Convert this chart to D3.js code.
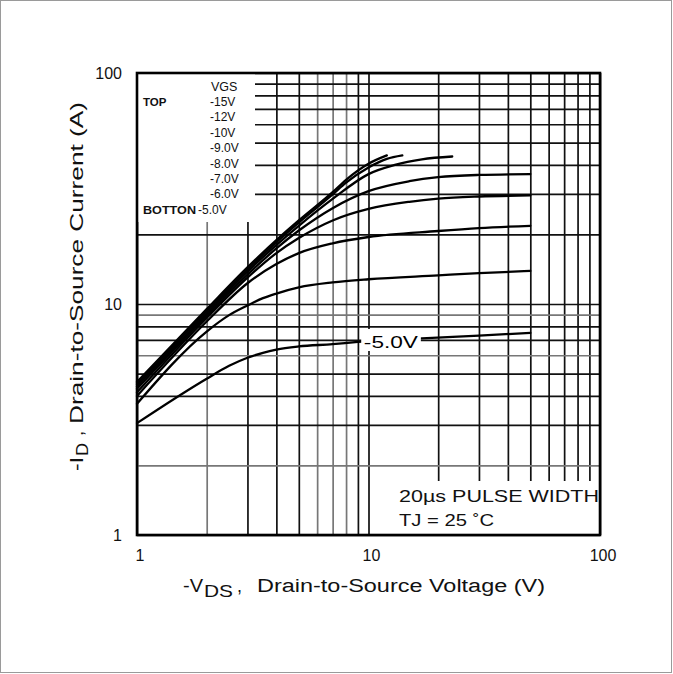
<!DOCTYPE html>
<html><head><meta charset="utf-8">
<script src="https://cdn.jsdelivr.net/npm/d3@7"></script>
<style>html,body{margin:0;padding:0;background:#fff}svg{display:block}</style>
</head><body>
<svg id="c" width="673" height="674"></svg>
<script>
// ---- data ----
const xTickLabels = [1, 10, 100];
const yTickLabels = [1, 10, 100];
const legendTitle = "VGS";
const legendLabels = ["-15V", "-12V", "-10V", "-9.0V", "-8.0V", "-7.0V", "-6.0V", "-5.0V"];
const vgs15 = [[1,4.6],[2,9.5],[3,14.4],[4,18.9],[5,23],[7,30.5],[8,34.5],[10,40.5],[12,44]];
const vgs12 = [[1,4.5],[2,9.3],[3,14.1],[4,18.5],[5,22.5],[7,29.8],[8,33.5],[10,39],[12,42.5],[14,44]];
const vgs10 = [[1,4.4],[2,9.1],[3,13.8],[4,18],[5,21.8],[7,28.5],[10,36.5],[13,40],[17,42.3],[23,43.5]];
const vgs9  = [[1,4.3],[2,8.9],[3,13.4],[4,17.4],[5,20.8],[7,26],[10,30.8],[15,34],[20,35.4],[30,36.2],[50,36.5]];
const vgs8  = [[1,4.15],[2,8.7],[3,13],[4,16.6],[5,19.3],[7,23],[10,25.8],[15,27.7],[20,28.6],[30,29.2],[50,29.5]];
const vgs7  = [[1,4.0],[2,8.4],[3,12.3],[4,14.9],[5,16.6],[7,18.3],[10,19.5],[20,20.7],[30,21.3],[50,21.8]];
const vgs6  = [[1,3.7],[2,7.6],[2.5,8.95],[3,9.85],[3.5,10.6],[4,11.1],[5,11.8],[7,12.4],[10,12.8],[20,13.3],[30,13.6],[50,13.9]];
const vgs5  = [[1,3.05],[2,4.75],[2.5,5.4],[3,5.85],[3.5,6.15],[4,6.35],[5,6.55],[7,6.7],[9,6.85],[17,7.1],[30,7.3],[50,7.5]];
const curves = [vgs15, vgs12, vgs10, vgs9, vgs8, vgs7, vgs6, vgs5];
const curveLabel = "-5.0V";
const xTitle = ["-V", "DS", ",", "Drain-to-Source Voltage (V)"];
const yTitle = ["-I", "D", ",", "Drain-to-Source Current (A)"];
const note1 = "20\u00b5s PULSE WIDTH";
const note2 = "TJ = 25 \u02daC";

// ---- layout ----
const L = 137, R = 600, T = 73, B = 535;
const svg = d3.select("#c");
const FONT = "'Liberation Sans', Arial, sans-serif";
const x = d3.scaleLog().domain([1, 100]).range([L, R]);
const y = d3.scaleLog().domain([1, 100]).range([B, T]);

svg.append("rect").attr("x", 0).attr("y", 0).attr("width", 673).attr("height", 674).attr("fill", "#fff");
svg.append("rect").attr("x", 0.5).attr("y", 0.5).attr("width", 671).attr("height", 672)
  .attr("fill", "none").attr("stroke", "#9a9a9a").attr("stroke-width", 1);

// grid via axes
const lightX = new Set([2, 6, 7, 8]);
const lightY = new Set([2, 6, 9]);
const gx = svg.append("g").attr("transform", `translate(0,${B})`)
  .call(d3.axisBottom(x).tickValues(x.ticks()).tickSize(-(B - T)).tickFormat(""));
gx.select(".domain").remove();
gx.selectAll("line").attr("stroke", d => lightX.has(d) ? "#777" : "#111").attr("stroke-width", 1.7);
const gy = svg.append("g").attr("transform", `translate(${L},0)`)
  .call(d3.axisLeft(y).tickValues(y.ticks()).tickSize(-(R - L)).tickFormat(""));
gy.select(".domain").remove();
gy.selectAll("line").attr("stroke", d => lightY.has(d) ? "#777" : "#111").attr("stroke-width", 1.7);

// white masks (legend box, note box)
svg.append("rect").attr("x", L).attr("y", T).attr("width", 118).attr("height", 149).attr("fill", "#fff");
svg.append("rect").attr("x", 378).attr("y", 481).attr("width", R - 378).attr("height", B - 481).attr("fill", "#fff");

// curves
const line = d3.line().x(d => x(d[0])).y(d => y(d[1])).curve(d3.curveMonotoneX);
svg.append("g").selectAll("path").data(curves).join("path")
  .attr("d", line).attr("fill", "none").attr("stroke", "#000").attr("stroke-width", 2.3)
  .attr("stroke-linecap", "round");

// in-plot label -5.0V
svg.append("rect").attr("x", x(9.3)).attr("y", 329).attr("width", x(17) - x(9.3) - 1).attr("height", 22).attr("fill", "#fff");
svg.append("text").attr("x", x(9.55)).attr("y", 348).attr("font-family", FONT).attr("font-size", 17)
  .attr("textLength", 54).attr("lengthAdjust", "spacingAndGlyphs").text(curveLabel);

// frame
svg.append("rect").attr("x", L).attr("y", T).attr("width", R - L).attr("height", B - T)
  .attr("fill", "none").attr("stroke", "#000").attr("stroke-width", 2.6);

// tick labels
svg.append("g").selectAll("text").data(yTickLabels).join("text")
  .attr("x", 122).attr("y", d => y(d) + 6).attr("text-anchor", "end")
  .attr("font-family", FONT).attr("font-size", 16).attr("fill", "#111").text(d => d);
svg.append("g").selectAll("text").data(xTickLabels).join("text")
  .attr("x", d => x(d) + 3).attr("y", 561).attr("text-anchor", "middle")
  .attr("font-family", FONT).attr("font-size", 16).attr("fill", "#111").text(d => d);

// legend
const lg = svg.append("g").attr("font-family", FONT).attr("font-size", 12).attr("fill", "#111");
lg.append("text").attr("x", 211).attr("y", 91).attr("font-size", 12.5).text(legendTitle);
lg.append("text").attr("x", 143).attr("y", 106).attr("font-weight", "bold").attr("font-size", 11.5).text("TOP");
lg.selectAll("text.v").data(legendLabels).join("text").attr("class", "v")
  .attr("x", (d, i) => i === legendLabels.length - 1 ? 198 : 210)
  .attr("y", (d, i) => 106 + i * 15.4).text(d => d);
lg.append("text").attr("x", 143).attr("y", 106 + 7 * 15.4).attr("font-weight", "bold").attr("font-size", 11.5)
  .attr("textLength", 53).attr("lengthAdjust", "spacingAndGlyphs").text("BOTTON");

// notes
svg.append("text").attr("x", 399).attr("y", 502).attr("font-family", FONT).attr("font-size", 16)
  .attr("textLength", 200).attr("lengthAdjust", "spacingAndGlyphs").attr("fill", "#111").text(note1);
svg.append("text").attr("x", 399).attr("y", 526).attr("font-family", FONT).attr("font-size", 16)
  .attr("textLength", 95).attr("lengthAdjust", "spacingAndGlyphs").attr("fill", "#111").text(note2);

// axis titles
const xt = svg.append("g").attr("font-family", FONT).attr("fill", "#111");
xt.append("text").attr("x", 183).attr("y", 592).attr("font-size", 18)
  .attr("textLength", 20).attr("lengthAdjust", "spacingAndGlyphs").text(xTitle[0]);
xt.append("text").attr("x", 204).attr("y", 597).attr("font-size", 17)
  .attr("textLength", 29).attr("lengthAdjust", "spacingAndGlyphs").text(xTitle[1]);
xt.append("text").attr("x", 237).attr("y", 592).attr("font-size", 18).text(xTitle[2]);
xt.append("text").attr("x", 257).attr("y", 592).attr("font-size", 18)
  .attr("textLength", 288).attr("lengthAdjust", "spacingAndGlyphs").text(xTitle[3]);

const yt = svg.append("g").attr("transform", "translate(83,0) rotate(-90)")
  .attr("font-family", FONT).attr("fill", "#111");
yt.append("text").attr("x", -471).attr("y", 0).attr("font-size", 18)
  .attr("textLength", 14).attr("lengthAdjust", "spacingAndGlyphs").text(yTitle[0]);
yt.append("text").attr("x", -456).attr("y", 5).attr("font-size", 17)
  .attr("textLength", 13).attr("lengthAdjust", "spacingAndGlyphs").text(yTitle[1]);
yt.append("text").attr("x", -436).attr("y", 0).attr("font-size", 18).text(yTitle[2]);
yt.append("text").attr("x", -424).attr("y", 0).attr("font-size", 18)
  .attr("textLength", 322).attr("lengthAdjust", "spacingAndGlyphs").text(yTitle[3]);
</script>
</body></html>
